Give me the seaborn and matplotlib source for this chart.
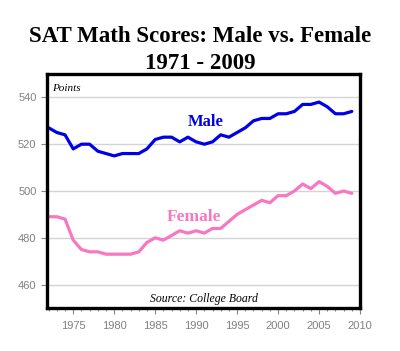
import numpy as np
import pandas as pd
import seaborn as sns
import matplotlib.pyplot as plt
from matplotlib.ticker import MultipleLocator

years = list(range(1972, 2010))
male = [527, 525, 524, 518, 520, 520, 517, 516, 515, 516, 516, 516, 518, 522, 523,
        523, 521, 523, 521, 520, 521, 524, 523, 525, 527, 530, 531, 531, 533, 533,
        534, 537, 537, 538, 536, 533, 533, 534]
female = [489, 489, 488, 479, 475, 474, 474, 473, 473, 473, 473, 474, 478, 480, 479,
          481, 483, 482, 483, 482, 484, 484, 487, 490, 492, 494, 496, 495, 498, 498,
          500, 503, 501, 504, 502, 499, 500, 499]
y_ticks = [460, 480, 500, 520, 540]
x_ticks = [1975, 1980, 1985, 1990, 1995, 2000, 2005, 2010]

data = pd.DataFrame({"year": years, "Male": male, "Female": female})

sns.set_style("white")
fig = plt.figure(figsize=(4.0, 3.51), dpi=100)
ax = fig.add_axes([0.1175, 0.1225, 0.7825, 0.6667])

ax.set_yticks(y_ticks)
ax.grid(axis="y", color="#d4d4d4", linewidth=1.0)
ax.set_axisbelow(True)

sns.lineplot(data=data, x="year", y="Male", color="#0000e6", linewidth=2.3, ax=ax)
sns.lineplot(data=data, x="year", y="Female", color="#f877c0", linewidth=2.3, ax=ax)

ax.set_xlim(1971.8, 2010)
ax.set_ylim(450, 550)
ax.set_xticks(x_ticks)
ax.xaxis.set_minor_locator(MultipleLocator(1))
ax.set_xlabel("")
ax.set_ylabel("")

for s in ax.spines.values():
    s.set_visible(True)
    s.set_color("black")
    s.set_linewidth(2.4)

ax.tick_params(axis="both", which="major", direction="out", length=4, width=0.8,
               color="#888888", labelcolor="#808080", labelsize=8)
ax.tick_params(axis="x", which="minor", direction="out", length=2.5, width=0.8,
               color="#888888", bottom=True)
ax.tick_params(axis="x", which="major", bottom=True, pad=5)
ax.tick_params(axis="y", which="major", left=True)
for lab in ax.get_xticklabels() + ax.get_yticklabels():
    lab.set_family("Liberation Sans")

serif = "Liberation Serif"
fig.text(0.5, 0.895, "SAT Math Scores: Male vs. Female", ha="center", va="center",
         fontsize=16.5, fontweight="bold", family=serif, color="black")
fig.text(0.5, 0.818, "1971 - 2009", ha="center", va="center",
         fontsize=16.5, fontweight="bold", family=serif, color="black")

ax.text(1972.4, 544, "Points", fontsize=8, style="italic", family=serif,
        ha="left", va="center", color="black")
ax.text(1991.2, 529.4, "Male", fontsize=12, fontweight="bold", family=serif,
        color="#0000e6", ha="center", va="center")
ax.text(1989.7, 488.7, "Female", fontsize=12.5, fontweight="bold", family=serif,
        color="#f877c0", ha="center", va="center")
ax.text(1991, 454, "Source: College Board", fontsize=8.5, style="italic", family=serif,
        ha="center", va="center", color="black")

fig.savefig("out.png", dpi=100)
